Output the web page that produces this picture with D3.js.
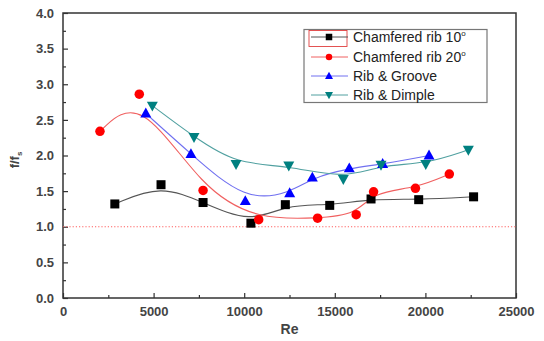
<!DOCTYPE html>
<html>
<head>
<meta charset="utf-8">
<script src="https://cdn.jsdelivr.net/npm/d3@7"></script>
<style>
  html, body { margin: 0; padding: 0; background: #fff; }
  svg { display: block; font-family: "Liberation Sans", Arial, sans-serif; }
</style>
</head>
<body>
<svg id="chart" width="544" height="341"></svg>
<script>
// Friction factor ratio f/fs versus Reynolds number for four rib geometries
const seriesNames = ["Chamfered rib 10", "Chamfered rib 20", "Rib & Groove", "Rib & Dimple"];
const seriesColors = ["#000000", "#ff0000", "#0000ff", "#008080"];
const seriesLineColors = ["#555555", "#f06060", "#7070f0", "#50a0a0"];
const seriesSymbols = ["square", "circle", "triangleUp", "triangleDown"];

const reChamfer10 = [2860, 5410, 7730, 10370, 12270, 14720, 17000, 19630, 22660];
const fChamfer10  = [1.32, 1.59, 1.34, 1.05, 1.31, 1.30, 1.39, 1.38, 1.42];

const reChamfer20 = [2040, 4210, 7730, 10800, 14050, 16180, 17140, 19450, 21320];
const fChamfer20  = [2.34, 2.86, 1.51, 1.10, 1.12, 1.17, 1.49, 1.54, 1.74];

const reGroove = [4570, 7060, 10060, 12510, 13760, 15800, 17640, 20200];
const fGroove  = [2.59, 2.02, 1.36, 1.47, 1.69, 1.82, 1.88, 2.00];

const reDimple = [4930, 7230, 9550, 12460, 15470, 17550, 20020, 22370];
const fDimple  = [2.70, 2.26, 1.88, 1.86, 1.67, 1.87, 1.88, 2.08];

const xTicks = [0, 5000, 10000, 15000, 20000, 25000];
const yTicks = [0.0, 0.5, 1.0, 1.5, 2.0, 2.5, 3.0, 3.5, 4.0];
const referenceLevel = 1.0;

const seriesData = [
  reChamfer10.map((x, i) => ({ x, y: fChamfer10[i] })),
  reChamfer20.map((x, i) => ({ x, y: fChamfer20[i] })),
  reGroove.map((x, i) => ({ x, y: fGroove[i] })),
  reDimple.map((x, i) => ({ x, y: fDimple[i] }))
];

const svg = d3.select("#chart");
const plot = { left: 63, right: 516, top: 13, bottom: 298 };

const x = d3.scaleLinear().domain([0, 25000]).range([plot.left, plot.right]);
const y = d3.scaleLinear().domain([0, 4]).range([plot.bottom, plot.top]);

const axisColor = "#333";
const labelColor = "#444";

// Minor ticks (inward)
const xMinor = d3.range(2500, 25000, 5000);
const yMinor = d3.range(0.25, 4, 0.5);

const gx = svg.append("g").attr("transform", `translate(0,${plot.bottom})`)
  .call(d3.axisBottom(x).tickValues(xTicks).tickFormat(d3.format("d")).tickSizeInner(-5).tickSizeOuter(0).tickPadding(9));
const gxm = svg.append("g").attr("transform", `translate(0,${plot.bottom})`)
  .call(d3.axisBottom(x).tickValues(xMinor).tickFormat("").tickSizeInner(-3).tickSizeOuter(0));
const gy = svg.append("g").attr("transform", `translate(${plot.left},0)`)
  .call(d3.axisLeft(y).tickValues(yTicks).tickFormat(d3.format(".1f")).tickSizeInner(-5).tickSizeOuter(0).tickPadding(9));
const gym = svg.append("g").attr("transform", `translate(${plot.left},0)`)
  .call(d3.axisLeft(y).tickValues(yMinor).tickFormat("").tickSizeInner(-3).tickSizeOuter(0));

[gx, gxm, gy, gym].forEach(g => {
  g.select(".domain").remove();
  g.selectAll(".tick line").attr("stroke", axisColor).attr("stroke-width", 1.2);
  g.selectAll(".tick text").attr("fill", labelColor)
    .style("font-size", "13px").style("font-family", "Liberation Sans, Arial, sans-serif")
    .style("font-weight", "bold");
});

// Plot frame
svg.append("rect")
  .attr("x", plot.left).attr("y", plot.top)
  .attr("width", plot.right - plot.left).attr("height", plot.bottom - plot.top)
  .attr("fill", "none").attr("stroke", axisColor).attr("stroke-width", 1.5);

// Reference line f/fs = 1
svg.append("line")
  .attr("x1", x(0)).attr("x2", x(25000))
  .attr("y1", y(referenceLevel)).attr("y2", y(referenceLevel))
  .attr("stroke", "#ff6060").attr("stroke-width", 1.2).attr("stroke-dasharray", "1.2,2");

// Smoothed curves
const line = d3.line().x(d => x(d.x)).y(d => y(d.y)).curve(d3.curveBasis);
seriesData.forEach((data, i) => {
  svg.append("path").datum(data)
    .attr("d", line)
    .attr("fill", "none")
    .attr("stroke", seriesLineColors[i])
    .attr("stroke-width", 1.1);
});

// Marker drawing
function marker(sel, kind, color, size) {
  if (kind === "square") {
    sel.append("rect").attr("x", -size / 2).attr("y", -size / 2)
      .attr("width", size).attr("height", size).attr("fill", color);
  } else if (kind === "circle") {
    sel.append("circle").attr("r", size / 2).attr("fill", color);
  } else if (kind === "triangleUp") {
    const h = size * 0.9, w = size;
    sel.append("path").attr("d", `M0,${-h * 0.6}L${w / 2},${h * 0.4}L${-w / 2},${h * 0.4}Z`).attr("fill", color);
  } else {
    const h = size * 0.9, w = size;
    sel.append("path").attr("d", `M0,${h * 0.6}L${w / 2},${-h * 0.4}L${-w / 2},${-h * 0.4}Z`).attr("fill", color);
  }
}

const markerSizes = [9, 9.5, 11, 11];
seriesData.forEach((data, i) => {
  svg.append("g").selectAll("g").data(data).join("g")
    .attr("transform", d => `translate(${x(d.x)},${y(d.y)})`)
    .each(function () { marker(d3.select(this), seriesSymbols[i], seriesColors[i], markerSizes[i]); });
});

// Axis titles
svg.append("text")
  .attr("x", (plot.left + plot.right) / 2).attr("y", 334)
  .attr("text-anchor", "middle").attr("fill", labelColor)
  .style("font-size", "14px").style("font-weight", "bold")
  .text("Re");

const yTitle = svg.append("text")
  .attr("transform", "translate(19,160) rotate(-90)")
  .attr("text-anchor", "middle").attr("fill", labelColor)
  .style("font-size", "13px").style("font-weight", "bold");
yTitle.append("tspan").text("f/f");
yTitle.append("tspan").attr("dy", 3).style("font-size", "8px").text("s");

// Legend
const legend = svg.append("g");
legend.append("rect")
  .attr("x", 304).attr("y", 29.5).attr("width", 183).attr("height", 73)
  .attr("fill", "#fff").attr("stroke", "#777").attr("stroke-width", 1.2);
legend.append("rect")
  .attr("x", 309).attr("y", 30.5).attr("width", 38).attr("height", 16)
  .attr("fill", "none").attr("stroke", "#e04040").attr("stroke-width", 0.9);

const legendRowY = [37, 57, 76, 95];
seriesNames.forEach((name, i) => {
  const gy0 = legendRowY[i];
  legend.append("line")
    .attr("x1", 311).attr("x2", 348).attr("y1", gy0).attr("y2", gy0)
    .attr("stroke", seriesLineColors[i]).attr("stroke-width", 1);
  const m = legend.append("g").attr("transform", `translate(329,${gy0})`);
  marker(m, seriesSymbols[i], seriesColors[i], i < 2 ? 6.5 : 8);
  const t = legend.append("text")
    .attr("x", 353).attr("y", gy0 + 5)
    .attr("fill", "#222").style("font-size", "14px")
    .text(name);
  if (i < 2) {
    t.append("tspan").attr("dy", -6).style("font-size", "8px").text("o");
  }
});
</script>
</body>
</html>
